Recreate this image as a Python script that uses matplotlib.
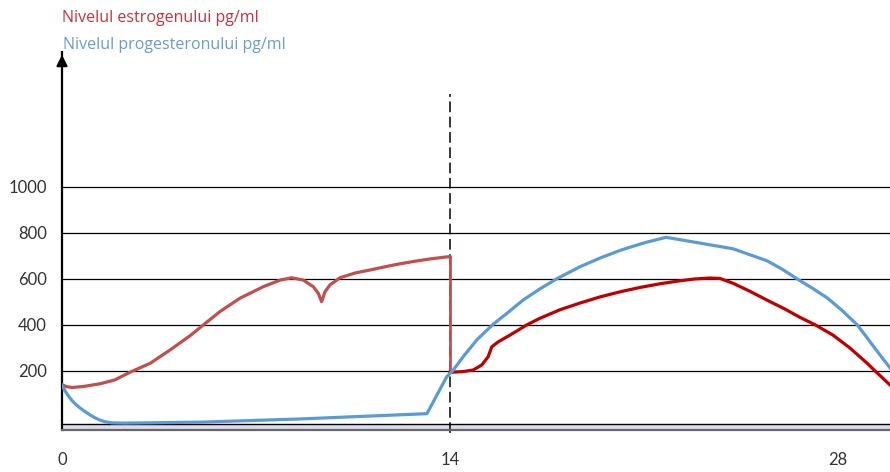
import matplotlib.pyplot as plt

# cycle day / hormone level
estro_pre_days = [0.00, 0.14, 0.36, 0.76, 1.37, 1.91, 2.45, 3.18, 3.90, 4.62,
                  5.10, 5.70, 6.42, 7.26, 7.87, 8.29, 8.71, 9.07, 9.25, 9.37,
                  9.49, 9.67, 10.03, 10.58, 11.12, 11.66, 12.20, 12.74, 13.28,
                  13.82, 14.00]
estro_pre_vals = [140, 131, 127, 131, 143, 160, 193, 232, 290, 352,
                  399, 457, 515, 565, 594, 604, 594, 565, 536, 500,
                  543, 573, 604, 625, 638, 652, 665, 676, 686,
                  694, 696]

estro_post_days = [14.00, 14.00, 14.48, 14.84, 15.15, 15.38, 15.51, 15.75, 16.17,
                   16.77, 17.25, 17.97, 18.69, 19.42, 20.14, 20.86, 21.58, 22.30,
                   22.84, 23.38, 23.75, 24.22, 24.83, 25.44, 26.09, 26.63, 27.17,
                   27.82, 28.43, 29.05, 29.34, 29.88]
estro_post_vals = [696, 193, 196, 203, 225, 261, 304, 326, 355,
                   399, 428, 465, 494, 521, 543, 562, 578, 591,
                   599, 603, 601, 580, 545, 507, 468, 432, 400,
                   355, 299, 233, 199, 138]

prog_days = [0.00, 0.11, 0.22, 0.36, 0.51, 0.65, 0.83, 1.01, 1.19, 1.37,
             1.55, 1.80, 2.27, 4.98, 8.59, 13.17, 13.88, 14.12, 14.48, 14.97,
             15.56, 16.05, 16.65, 17.25, 17.86, 18.69, 19.42, 20.14, 20.50,
             21.04, 21.80, 23.02, 24.22, 25.44, 25.98, 26.52, 27.06, 27.61,
             28.15, 28.69, 28.98, 29.27, 29.56, 29.88]
prog_vals = [135, 112, 92, 70, 52, 38, 22, 8, -5, -15,
             -22, -27, -28, -24, -10, 13, 173, 203, 261, 334,
             402, 449, 508, 556, 600, 652, 690, 723, 737,
             757, 780, 755, 730, 678, 642, 600, 560, 517,
             462, 400, 355, 308, 262, 212]

y_ticks = [200, 400, 600, 800, 1000]
x_ticks = [0, 14, 28]
ovulation_day = 14

fig = plt.figure(figsize=(8.9, 4.72), dpi=100)
ax = fig.add_axes([62 / 890, 1 - 430 / 472, 828 / 890, 378 / 472])
ax.set_xlim(0, 29.88)
ax.set_ylim(-58, 1586)

for v in y_ticks:
    ax.axhline(v, color='black', lw=0.9, zorder=1)

# double base line
ax.axhspan(-58, -32, color='#dcdcec', lw=0, zorder=0)
ax.axhline(-32, color='black', lw=1.0, zorder=1)

ax.plot(estro_pre_days, estro_pre_vals, color='#c0504d', lw=2.3,
        solid_joinstyle='round', zorder=3)
ax.plot(estro_post_days[:2], estro_post_vals[:2], color='#c0504d', lw=2.0, zorder=3)
ax.plot(estro_post_days[1:], estro_post_vals[1:], color='#c00000', lw=2.3,
        solid_joinstyle='round', zorder=3)
ax.plot(prog_days, prog_vals, color='#5b9bd5', lw=2.3,
        solid_joinstyle='round', zorder=4)

ax.plot([ovulation_day, ovulation_day], [-70, 1404], color='black', lw=1.1,
        dashes=(7, 3), zorder=2, clip_on=False)

for s in ['top', 'right']:
    ax.spines[s].set_visible(False)
ax.spines['left'].set_linewidth(1.6)
ax.spines['bottom'].set_linewidth(1.6)
ax.spines['bottom'].set_color('#666666')

# arrow head on the y axis
ax.annotate('', xy=(0, 1.0), xytext=(0, 0.955), xycoords='axes fraction',
            arrowprops=dict(arrowstyle='-|>', color='black', lw=1.6,
                            mutation_scale=16), annotation_clip=False)

ax.set_yticks(y_ticks)
ax.set_xticks(x_ticks)
ax.set_yticklabels([str(v) for v in y_ticks], fontfamily='Lato', fontsize=12)
ax.set_xticklabels([str(v) for v in x_ticks], fontfamily='Lato', fontsize=12)
ax.tick_params(axis='y', length=0, pad=11, colors='#333333')
ax.tick_params(axis='x', length=0, pad=16, colors='#333333')

fig.text(62 / 890, 1 - 18 / 472, 'Nivelul estrogenului pg/ml', color='#c8323c',
         fontfamily='Open Sans', fontsize=11.5, va='center', ha='left')
fig.text(63 / 890, 1 - 45 / 472, 'Nivelul progesteronului pg/ml', color='#6a9ccf',
         fontfamily='Open Sans', fontsize=11.5, va='center', ha='left')

fig.savefig('out.png', dpi=100)
